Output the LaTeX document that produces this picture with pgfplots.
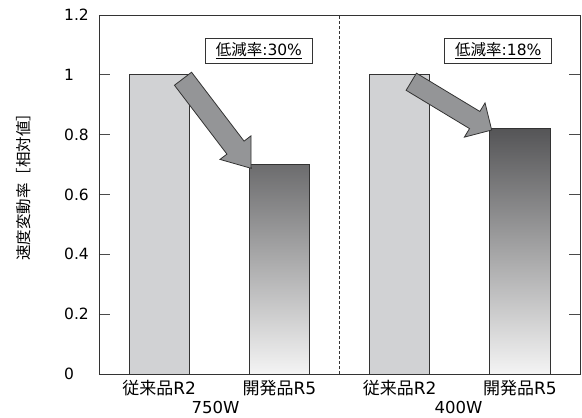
\documentclass[border=0pt]{standalone}
\usepackage{fontspec}
\setmainfont{DejaVu Sans}
\newfontfamily\jp{Noto Sans CJK JP}
\usepackage{pgfplots}
\pgfplotsset{compat=1.18}

\definecolor{axisgray}{HTML}{333333}
\definecolor{tickgray}{HTML}{4A4A4A}
\definecolor{oldbar}{HTML}{D1D2D4}
\definecolor{newtop}{HTML}{555557}
\definecolor{newbot}{HTML}{F4F4F4}
\definecolor{arrowfill}{HTML}{949597}

\begin{document}
\begin{tikzpicture}
\begin{axis}[
  scale only axis, width=481pt, height=359pt,
  xmin=-0.5, xmax=3.5, ymin=0, ymax=1.2,
  axis line style={axisgray, line width=0.8pt},
  xtick={0,1,2,3},
  xticklabels={{\jp 従来品}R2, {\jp 開発品}R5, {\jp 従来品}R2, {\jp 開発品}R5},
  major x tick style={draw=none},
  xticklabel style={anchor=base, yshift=-21pt, font=\fontsize{17}{19}\selectfont},
  ytick={0,0.2,0.4,0.6,0.8,1,1.2},
  ytick pos=both,
  yticklabel pos=left,
  tick align=inside,
  major tick length=11pt,
  major y tick style={tickgray, line width=0.8pt},
  yticklabel style={anchor=west, inner xsep=0pt, xshift=-35pt, font=\fontsize{15.5}{17}\selectfont},
  /pgf/number format/assume math mode=true,
  ylabel={\jp 速度変動率［相対値］},
  ylabel style={font=\fontsize{15.5}{17}\selectfont, at={(axis description cs:-0.157,0.532)}, anchor=center},
  clip=false,
]
% conventional units R2
\addplot[ybar, bar width=0.5, bar shift=0pt, draw=axisgray, line width=0.8pt, fill=oldbar]
  coordinates {(0,1) (2,1)};
% new units R5
\addplot[ybar, bar width=0.5, bar shift=0pt, draw=axisgray, line width=0.8pt,
  top color=newtop, bottom color=newbot]
  coordinates {(1,0.70) (3,0.82)};

% separator between the two power classes
\draw[axisgray, line width=0.8pt, dash pattern=on 3pt off 2pt]
  (axis cs:1.5,0) -- (axis cs:1.5,1.2);

% reduction arrows
\draw[fill=arrowfill, draw=axisgray, line width=0.8pt]
  (axis cs:0.2697,1.0087) -- (axis cs:0.1274,0.9652) -- (axis cs:0.5640,0.7350)
  -- (axis cs:0.5061,0.7173) -- (axis cs:0.7649,0.6875) -- (axis cs:0.7642,0.7961)
  -- (axis cs:0.7063,0.7784) -- cycle;
\draw[fill=arrowfill, draw=axisgray, line width=0.8pt]
  (axis cs:2.1401,1.0055) -- (axis cs:2.0541,0.9483) -- (axis cs:2.5813,0.8203)
  -- (axis cs:2.5383,0.7917) -- (axis cs:2.7657,0.8155) -- (axis cs:2.7103,0.9061)
  -- (axis cs:2.6673,0.8775) -- cycle;

% reduction rates
\node[draw=axisgray, line width=0.8pt, fill=white, minimum width=107pt, minimum height=25pt,
  inner sep=0pt, font=\fontsize{15.5}{17}\selectfont]
  at (axis cs:0.8297,1.0796) {\underline{{\jp 低減率}:30\%}};
\node[draw=axisgray, line width=0.8pt, fill=white, minimum width=107pt, minimum height=25pt,
  inner sep=0pt, font=\fontsize{15.5}{17}\selectfont]
  at (axis cs:2.8206,1.0796) {\underline{{\jp 低減率}:18\%}};

% power classes
\node[anchor=base, yshift=-40pt, font=\fontsize{16.5}{18}\selectfont] at (axis cs:0.47,0) {750W};
\node[anchor=base, yshift=-40pt, font=\fontsize{16.5}{18}\selectfont] at (axis cs:2.49,0) {400W};
\end{axis}
\pgfresetboundingbox
\path ([xshift=-99pt,yshift=-44pt]current axis.south west)
  rectangle ([xshift=2pt,yshift=15pt]current axis.north east);
\end{tikzpicture}
\end{document}
